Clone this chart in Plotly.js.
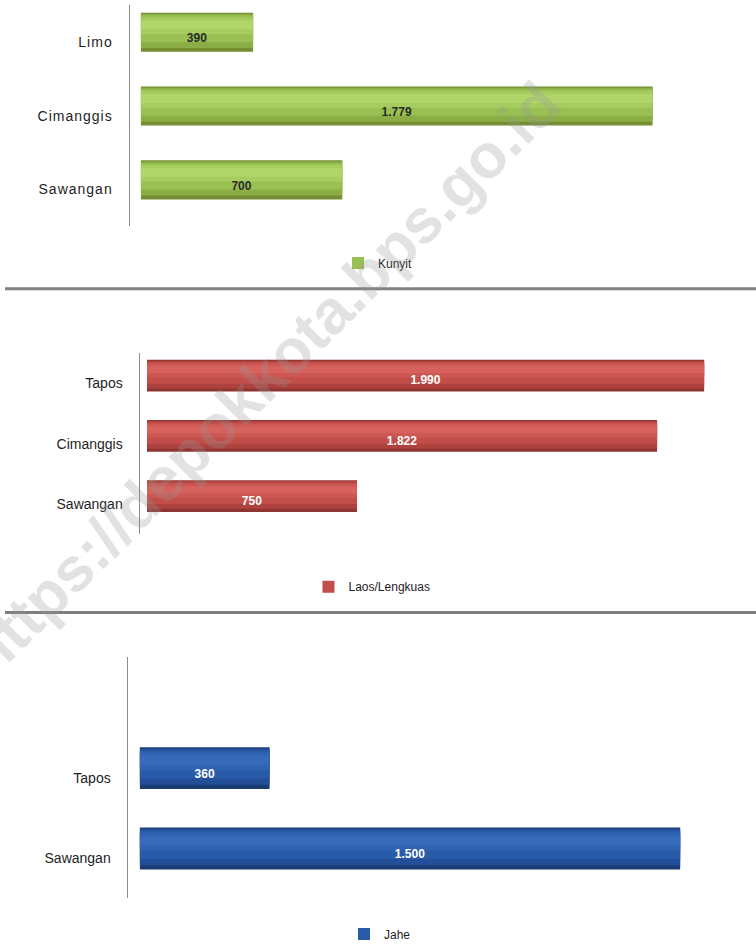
<!DOCTYPE html>
<html><head><meta charset="utf-8">
<script src="https://cdn.plot.ly/plotly-3.0.1.min.js"></script>
<style>
html,body{margin:0;padding:0;background:#fff;}
#chart{width:756px;height:949px;}
.ytick text{letter-spacing:1px;}
</style></head><body><div id="chart"></div>
<script>
// ---- data ----
const kunyitRegions = ['Limo', 'Cimanggis', 'Sawangan'];
const kunyitValues = [390, 1779, 700];

const laosRegions = ['Tapos', 'Cimanggis', 'Sawangan'];
const laosValues = [1990, 1822, 750];

const jaheRegions = ['Tapos', 'Sawangan'];
const jaheValues = [360, 1500];

const seriesNames = ['Kunyit', 'Laos/Lengkuas', 'Jahe'];

// ---- styling ----
const greenShades = ['#748f33', '#8aae45', '#99c052', '#a6cc5f', '#b0d66a'];
const redShades = ['#8e3431', '#ad423f', '#c24e4a', '#cd5753', '#d6615d'];
const blueShades = ['#1a3c75', '#234f98', '#2a5ba8', '#3064b3', '#366bbc'];
const bands = [[0, 1], [0.10, 0.97], [0.25, 0.93], [0.45, 0.88], [0.58, 0.80]];
const FONT = 'Liberation Sans, Arial, sans-serif';

function cylinder(regions, values, name, shades, o, w, sfx, legendId, labelColor) {
  const xa = 'x' + sfx, ya = 'y' + sfx;
  const tr = bands.map((b, i) => ({
    type: 'bar', orientation: 'h', x: values, y: regions, xaxis: xa, yaxis: ya,
    width: w * (b[1] - b[0]), offset: o + w * b[0],
    marker: {color: shades[i], line: {width: 0}},
    name: name, showlegend: i === 2, legend: legendId, hoverinfo: 'skip'
  }));
  tr.push({
    type: 'bar', orientation: 'h', x: values, y: regions, xaxis: xa, yaxis: ya,
    width: 0.4, offset: -0.15, marker: {color: 'rgba(0,0,0,0)', line: {width: 0}},
    texttemplate: '%{x:,d}', textposition: 'inside', insidetextanchor: 'middle',
    textangle: 0, constraintext: 'none',
    textfont: {family: FONT, size: 12, weight: 'bold', color: labelColor},
    showlegend: false, hoverinfo: 'skip'
  });
  return tr;
}

const data = [].concat(
  cylinder(kunyitRegions, kunyitValues, seriesNames[0], greenShades, -0.135, 0.53, '', 'legend', '#2b2b2b'),
  cylinder(laosRegions, laosValues, seriesNames[1], redShades, -0.135, 0.53, '2', 'legend2', '#ffffff'),
  cylinder(jaheRegions, jaheValues, seriesNames[2], blueShades, -0.14, 0.52, '3', 'legend3', '#ffffff')
);

const W = 756, H = 949;
const px = v => v / W, py = v => 1 - v / H;

function yax(top, bottom, cats) {
  return {
    domain: [py(bottom), py(top)], type: 'category',
    categoryorder: 'array', categoryarray: cats.slice().reverse(),
    range: [-0.5, 2.5], showline: true, linecolor: '#8a8a8a', linewidth: 1.5,
    ticks: '', ticklabelstandoff: 13, showgrid: false, zeroline: false,
    tickfont: {family: FONT, size: 14, color: '#1e1e1e'}, fixedrange: true
  };
}
function xax(left, right, lo, hi) {
  return {domain: [px(left), px(right)], range: [lo, hi], visible: false,
          showgrid: false, zeroline: false, fixedrange: true};
}
function leg(x, y) {
  return {x: px(x), y: py(y), xanchor: 'center', yanchor: 'middle', orientation: 'h',
          font: {family: FONT, size: 12, color: '#1e1e1e'}, bgcolor: 'rgba(0,0,0,0)',
          itemwidth: 30};
}

const layout = {
  width: W, height: H, margin: {l: 0, r: 0, t: 0, b: 0},
  paper_bgcolor: '#ffffff', plot_bgcolor: 'rgba(0,0,0,0)',
  barmode: 'overlay', separators: ',.', showlegend: true,
  xaxis: Object.assign(xax(130, 740, -38, 2083), {anchor: 'y'}),
  yaxis: Object.assign(yax(5, 228, kunyitRegions), {anchor: 'x'}),
  xaxis2: Object.assign(xax(140, 745, -25, 2136), {anchor: 'y2'}),
  yaxis2: Object.assign(yax(356, 538, laosRegions), {anchor: 'x2'}),
  xaxis3: Object.assign(xax(128, 745, -33, 1680), {anchor: 'y3'}),
  yaxis3: Object.assign(yax(662, 905, jaheRegions), {anchor: 'x3'}),
  legend: leg(378, 265),
  legend2: leg(372, 591),
  legend3: leg(380, 941),
  shapes: [
    {type: 'line', xref: 'paper', yref: 'paper', x0: px(5), x1: 1, y0: py(291), y1: py(291),
     line: {color: '#7f7f7f', width: 3}},
    {type: 'line', xref: 'paper', yref: 'paper', x0: px(5), x1: 1, y0: py(617), y1: py(617),
     line: {color: '#7f7f7f', width: 3}}
  ],
  annotations: [{
    xref: 'paper', yref: 'paper', x: px(262), y: py(382), showarrow: false,
    text: 'https://depokkota.bps.go.id', textangle: -45,
    font: {family: FONT, size: 62, weight: 'bold', color: 'rgba(150,150,150,0.28)'}
  }]
};

Plotly.newPlot('chart', data, layout, {staticPlot: true, displayModeBar: false});
</script></body></html>
